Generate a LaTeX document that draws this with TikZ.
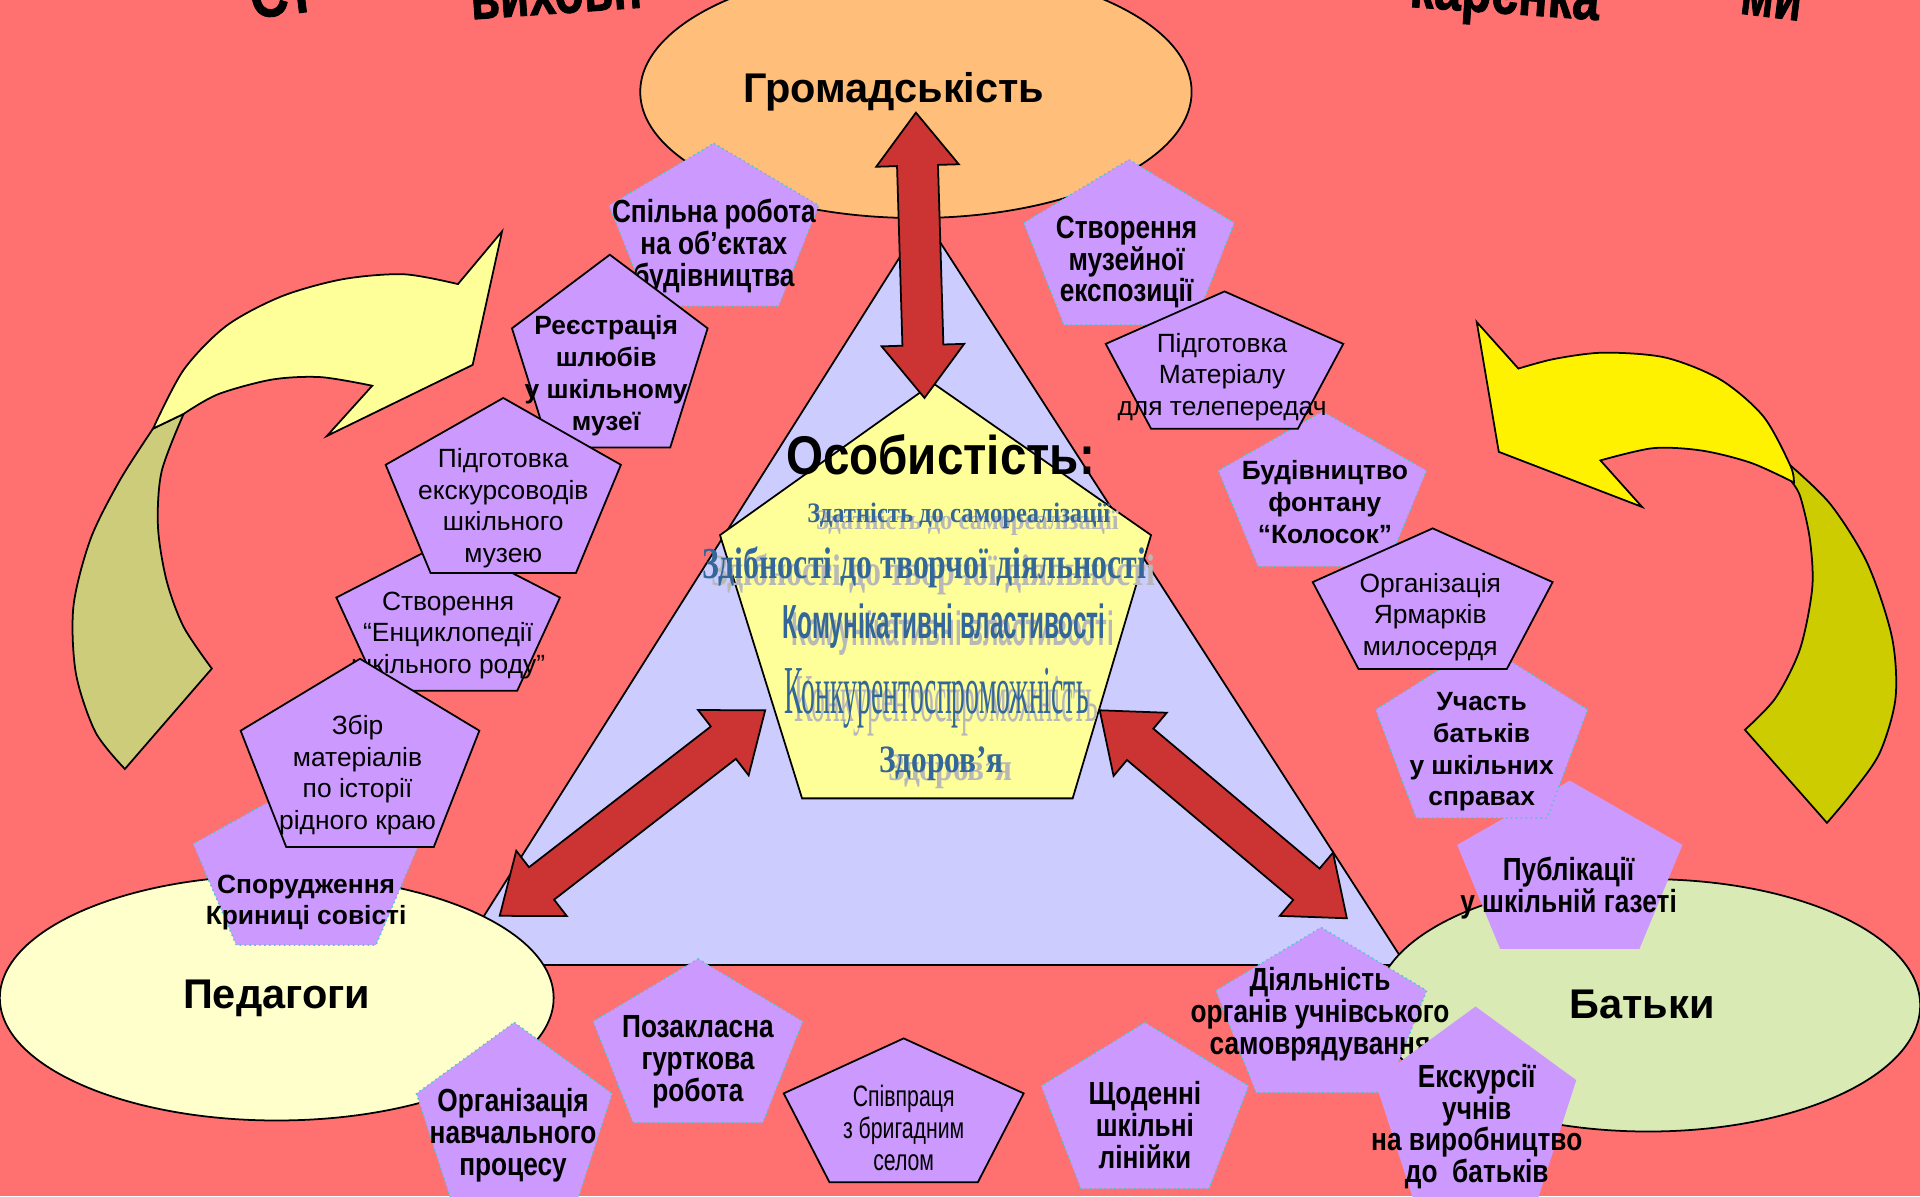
\documentclass[tikz,border=0pt]{standalone}
\usepackage{fontspec}
\setmainfont{Liberation Sans}
\newfontfamily\narrowsf[FakeStretch=0.82]{Liberation Sans}
\newfontfamily\narrowsfr[FakeStretch=0.72]{Liberation Sans}
\newfontfamily\serifrm{Liberation Serif}
\newfontfamily\heavysf[FakeBold=1.5]{Liberation Sans}
\usetikzlibrary{shapes.geometric,shapes.arrows,calc}

\definecolor{bgred}{RGB}{255,113,113}
\definecolor{orangefill}{RGB}{255,190,122}
\definecolor{paleyellow}{RGB}{255,255,204}
\definecolor{palegreen}{RGB}{217,234,180}
\definecolor{lavender}{RGB}{204,204,255}
\definecolor{lemon}{RGB}{255,255,153}
\definecolor{lilac}{RGB}{204,153,255}
\definecolor{tealdot}{RGB}{70,200,200}
\definecolor{arrowred}{RGB}{204,51,51}
\definecolor{oliveback}{RGB}{204,204,122}
\definecolor{olivedark}{RGB}{204,204,0}
\definecolor{textblue}{RGB}{51,102,153}

\newcommand{\upx}{0.3484pt}
\newsavebox\fitbox
\newlength\fitlen
% squeeze a text to a given width (in picture units)
\newcommand{\fitx}[2]{\sbox\fitbox{#2}\setlength\fitlen{\wd\fitbox}%
  \pgfmathsetmacro\fitsc{#1*0.3484/\fitlen}\scalebox{\fitsc}[1]{\usebox\fitbox}}
% pentagon: name, style, x, y, x radius, y radius
\newcommand{\pent}[6]{%
  \path[#2] (#3,#4) +(270:#5 and #6) -- +(342:#5 and #6) -- +(54:#5 and #6)
    -- +(126:#5 and #6) -- +(198:#5 and #6) -- cycle;
  \coordinate (#1) at (#3,#4);}

\begin{document}
\begin{tikzpicture}[x=0.012245cm, y=-0.012245cm,
  ell/.style={ellipse, draw=black, line width=0.5pt, inner sep=0pt},
  biglab/.style={inner sep=0pt, font=\bfseries\fontsize{11.8}{13}\selectfont},
  pentline/.style={draw=black, line width=0.5pt, fill=lilac},
  pentdot/.style={draw=tealdot, line width=0.4pt, densely dotted, fill=lilac},
  pentnone/.style={fill=lilac},
  bt/.style={align=center, inner sep=0pt, font=\bfseries\fontsize{7.5}{9.06}\selectfont},
  btn/.style={align=center, inner sep=0pt, font=\narrowsf\bfseries\fontsize{9.1}{9.06}\selectfont},
  rt/.style={align=center, inner sep=0pt, font=\fontsize{7.5}{9.06}\selectfont},
  rtn/.style={align=center, inner sep=0pt, font=\narrowsfr\fontsize{8.4}{9.06}\selectfont},
  dblarrow/.style={double arrow, draw=black, line width=0.5pt, fill=arrowred,
    inner xsep=0pt, inner ysep=16*\upx, double arrow head extend=17*\upx,
    double arrow tip angle=76, double arrow head indent=0pt, outer sep=0pt},
  ctxt/.style={inner sep=0pt, text=textblue},
  cshadow/.style={inner sep=0pt, text=black!28},
  curvy/.style={draw=black, line width=0.5pt},
  titlefrag/.style={inner sep=0pt, anchor=base, font=\heavysf\bfseries\fontsize{18}{20}\selectfont}]

\useasboundingbox (0,0) rectangle (1568,977);
\fill[bgred] (0,0) rectangle (1568,977);

% triangle
\coordinate (tl) at (370,788);
\coordinate (tt) at (755,178);
\coordinate (tr) at (1148,788);
\draw[fill=lavender, line width=0.5pt] (tl) -- (tt) -- (tr) -- cycle;

% ellipses
\node[ell, fill=orangefill, minimum width=450*\upx, minimum height=206*\upx] (gromada) at (748,75) {};
\node[biglab] (gromada-t) at (730,75) {Громадськість};
\node[ell, fill=paleyellow, minimum width=452*\upx, minimum height=200*\upx] (pedagogy) at (226,815) {};
\node[biglab] (pedagogy-t) at (226,815) {Педагоги};
\node[ell, fill=palegreen, minimum width=444*\upx, minimum height=206*\upx] (parents) at (1346,821) {};
\node[biglab] (parents-t) at (1341,820) {Батьки};

% central pentagon
\coordinate (ct) at (762,313);
\coordinate (cr) at (940,437);
\coordinate (cbr) at (876,652);
\coordinate (cbl) at (655,652);
\coordinate (cl) at (588,437);
\draw[fill=lemon, line width=0.5pt] (ct) -- (cr) -- (cbr) -- (cbl) -- (cl) -- cycle;
\node[inner sep=0pt] (osob) at (768,371) {\fitx{252}{\bfseries\fontsize{15.5}{16}\selectfont Особистість:}};

\node[cshadow] (selfreal-s) at (790,427) {\fitx{247}{\serifrm\bfseries\fontsize{8}{8}\selectfont Здатність до самореалізації}};
\node[ctxt] (selfreal) at (783,421) {\fitx{247}{\serifrm\bfseries\fontsize{8}{8}\selectfont Здатність до самореалізації}};
\node[cshadow] (creative-s) at (762,469) {\fitx{362}{\serifrm\bfseries\fontsize{12.6}{12}\selectfont Здібності до творчої діяльності}};
\node[ctxt] (creative) at (755,463) {\fitx{362}{\serifrm\bfseries\fontsize{12.6}{12}\selectfont Здібності до творчої діяльності}};
\node[cshadow] (commun-s) at (778,517) {\fitx{263}{\bfseries\fontsize{13.6}{13}\selectfont Комунікативні властивості}};
\node[ctxt] (commun) at (771,511) {\fitx{263}{\bfseries\fontsize{13.6}{13}\selectfont Комунікативні властивості}};
\node[cshadow] (compet-s) at (773,577) {\fitx{248}{\serifrm\fontsize{19.5}{18}\selectfont Конкурентоспроможність}};
\node[ctxt] (compet) at (765,570) {\fitx{248}{\serifrm\fontsize{19.5}{18}\selectfont Конкурентоспроможність}};
\node[cshadow] (health-s) at (776,630) {\fitx{101}{\serifrm\bfseries\fontsize{11}{11}\selectfont Здоров’я}};
\node[ctxt] (health) at (769,624) {\fitx{101}{\serifrm\bfseries\fontsize{11}{11}\selectfont Здоров’я}};

% double arrows
\coordinate (va1) at (748,92);
\coordinate (va2) at (755,325);
\coordinate (la1) at (408,748);
\coordinate (la2) at (625,580);
\coordinate (ra1) at (898,580);
\coordinate (ra2) at (1100,750);
\path let \p1=($(va2)-(va1)$), \n1={atan2(\y1,\x1)}, \n2={veclen(\x1,\y1)} in
  node[dblarrow, rotate=\n1, minimum height=\n2] (uparrow) at ($(va1)!0.5!(va2)$) {};
\path let \p1=($(la2)-(la1)$), \n1={atan2(\y1,\x1)}, \n2={veclen(\x1,\y1)} in
  node[dblarrow, rotate=\n1, minimum height=\n2] (leftarrow) at ($(la1)!0.5!(la2)$) {};
\path let \p1=($(ra2)-(ra1)$), \n1={atan2(\y1,\x1)}, \n2={veclen(\x1,\y1)} in
  node[dblarrow, rotate=\n1, minimum height=\n2] (rightarrow) at ($(ra1)!0.5!(ra2)$) {};

% curved arrows
\draw[curvy, fill=oliveback] (125,350) -- plot[smooth] coordinates {(125,350) (98,392) (74,440) (60,495) (62,550) (78,598) (102,628)}
  -- (173,546) -- plot[smooth] coordinates {(173,546) (150,512) (136,474) (129,430) (132,385) (150,338)} -- cycle;
\draw[curvy, fill=lemon] (374,232) -- plot[smooth] coordinates {(374,232) (330,224) (280,228) (230,242) (185,266) (150,302) (125,350)}
  -- (150,338) -- plot[smooth] coordinates {(150,338) (178,322) (222,310) (262,308) (304,315)}
  -- (267,356) -- (386,298) -- (410,189) -- cycle;
\draw[curvy, fill=olivedark] (1462,380) -- plot[smooth] coordinates {(1462,380) (1495,412) (1525,460) (1545,520) (1548,570) (1535,615) (1512,648) (1492,672)}
  -- (1425,596) -- plot[smooth] coordinates {(1425,596) (1450,570) (1470,530) (1480,480) (1478,440) (1470,405) (1462,392)} -- cycle;
\draw[curvy, fill=yellow] (1240,301) -- plot[smooth] coordinates {(1240,301) (1270,293) (1310,288) (1360,292) (1405,310) (1440,340) (1462,380) (1465,394)}
  -- plot[smooth] coordinates {(1465,394) (1430,378) (1390,368) (1350,366) (1307,376)}
  -- (1341,414) -- (1224,369) -- (1206,263) -- cycle;

% left chain
\pent{p1}{pentdot}{583}{190.5}{90}{73.5}
\node[btn] (p1-t) at (583,201) {Спільна робота\\на об’єктах\\будівництва};
\pent{p2}{pentline}{498}{295}{84}{87}
\node[bt] (p2-t) at (495,307) {Реєстрація\\шлюбів\\у шкільному\\музеї};
\pent{p4}{pentline}{366}{509}{96}{68}
\node[rt] (p4-t) at (366,519) {Створення\\“Енциклопедії\\шкільного роду”};
\pent{p3}{pentline}{411}{404}{101}{79}
\node[rt] (p3-t) at (411,415) {Підготовка\\екскурсоводів\\шкільного\\музею};
\pent{p6}{pentdot}{250}{712}{97}{74}
\node[bt] (p6-t) at (250,737) {Спорудження\\Криниці совісті};
\pent{p5}{pentline}{294}{623}{102.5}{85}
\node[rt] (p5-t) at (292,633) {Збір\\матеріалів\\по історії\\рідного краю};

% right chain
\pent{p7}{pentdot}{922}{205}{90.4}{74.6}
\node[btn] (p7-t) at (920,214) {Створення\\музейної\\експозиції};
\pent{p9}{pentdot}{1080}{406}{89.4}{70}
\node[bt] (p9-t) at (1082,410) {Будівництво\\фонтану\\“Колосок”};
\pent{p8}{pentline}{1000}{300}{102}{62}
\node[rt] (p8-t) at (998,308) {Підготовка\\Матеріалу\\для телепередач};
\pent{p12}{pentnone}{1282}{713.5}{96.7}{76}
\node[btn] (p12-t) at (1281,725) {Публікації\\у шкільній газеті};
\pent{p11}{pentdot}{1210}{604}{91}{79}
\node[bt] (p11-t) at (1210,614) {Участь\\батьків\\у шкільних\\справах};
\pent{p10}{pentline}{1170}{495}{103}{63.5}
\node[rt] (p10-t) at (1168,504) {Організація\\Ярмарків\\милосердя};
\pent{p13}{pentdot}{1079}{832}{90.5}{74.6}
\node[btn] (p13-t) at (1078,828) {Діяльність\\органів учнівського\\самоврядування};
\pent{p14}{pentnone}{1205}{909}{86.5}{87}
\node[btn] (p14-t) at (1206,920) {Екскурсії\\учнів\\на виробництво\\до~~батьків};

% bottom row
\pent{p15}{pentdot}{420}{919}{84}{84}
\node[btn] (p15-t) at (419,927) {Організація\\навчального\\процесу};
\pent{p16}{pentdot}{570}{857}{90}{74}
\node[btn] (p16-t) at (570,867) {Позакласна\\гурткова\\робота};
\pent{p17}{pentline}{738}{913}{103}{65}
\node[rtn] (p17-t) at (738,921) {Співпраця\\з бригадним\\селом};
\pent{p18}{pentdot}{935}{910}{89}{75}
\node[btn] (p18-t) at (935,919) {Щоденні\\шкільні\\лінійки};

% title, cut by the page edge
\node[titlefrag, rotate=7] (title1) at (232,12) {\fitx{52}{Ст}};
\node[titlefrag, rotate=4] (title2) at (455,11) {\fitx{140}{виховн}};
\node[titlefrag, rotate=-4] (title3) at (1228,11) {\fitx{155}{карєнка}};
\node[titlefrag, rotate=-7] (title4) at (1445,14) {\fitx{50}{ми}};
\end{tikzpicture}
\end{document}
